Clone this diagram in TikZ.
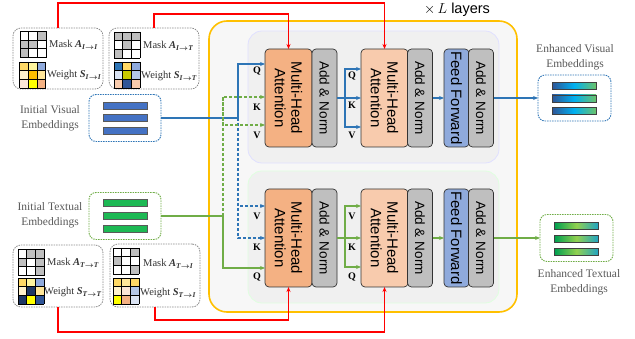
\documentclass[tikz,border=0pt]{standalone}
\usepackage{fontspec}
\setmainfont{Liberation Serif}
\setsansfont{Liberation Sans}
\usepackage{amsmath,bm}
\usetikzlibrary{arrows.meta,calc}
\definecolor{cblue}{HTML}{2E75B6}
\definecolor{cgreen}{HTML}{70AD47}
\definecolor{cred}{HTML}{FF0000}
\definecolor{cyel}{HTML}{FFC000}
\definecolor{mhaAc}{HTML}{F4B183}
\definecolor{mhaBc}{HTML}{F8CBAD}
\definecolor{anc}{HTML}{BFBFBF}
\definecolor{ffc}{HTML}{8FAADC}
\definecolor{mg}{HTML}{BFBFBF}
\definecolor{wa}{HTML}{FFD966}
\definecolor{wb}{HTML}{FFF59D}
\definecolor{wc}{HTML}{8FAADC}
\definecolor{wd}{HTML}{FFF2CC}
\definecolor{we}{HTML}{FFC000}
\definecolor{wf}{HTML}{FFE699}
\definecolor{wg}{HTML}{FBE5D6}
\definecolor{wh}{HTML}{FFFF00}
\definecolor{wi}{HTML}{F4B183}
\definecolor{wj}{HTML}{2E75B6}
\definecolor{wk}{HTML}{DAE3F3}
\definecolor{wl}{HTML}{C9C800}
\definecolor{wm}{HTML}{B4C7E7}
\definecolor{wn}{HTML}{F8CBAD}
\definecolor{wo}{HTML}{2F5597}
\definecolor{wp}{HTML}{1F3864}
\definecolor{vbar}{HTML}{4472C4}
\definecolor{tbar}{HTML}{1DB954}
\definecolor{txtgray}{HTML}{595959}
\definecolor{evL}{HTML}{2F5597}
\definecolor{evM}{HTML}{00B0F0}
\definecolor{evR}{HTML}{6CC36A}
\definecolor{etL}{HTML}{00A050}
\definecolor{etM}{HTML}{92D050}
\definecolor{etR}{HTML}{1FA3C4}
\newcommand\mybi[1]{\textbf{\textit{#1}}}
\newcommand\mygrid[3]{%
  \foreach \cc [count=\ii from 0] in {#3} {%
    \pgfmathtruncatemacro\grr{\ii/3}%
    \pgfmathtruncatemacro\gcc{\ii-3*\grr}%
    \fill[\cc] ({#1+\gcc*8.7},{#2+\grr*8.7}) rectangle ++(8.7,8.7);
  }%
  \foreach \kk in {0,1,2,3} {%
    \draw[line width=0.8pt] ({#1+\kk*8.7},#2) -- ++(0,26.1);
    \draw[line width=0.8pt] (#1,{#2+\kk*8.7}) -- ++(26.1,0);
  }%
}
\begin{document}
\begin{tikzpicture}[x=1pt,y=-1pt,>={Stealth[length=5pt,width=4pt]},
  blk/.style={draw=black!80, line width=0.7pt, rounded corners=4pt, inner sep=0pt, outer sep=0pt, minimum height=98pt},
  mhaA/.style={blk, fill=mhaAc, minimum width=47pt},
  mhaB/.style={blk, fill=mhaBc, minimum width=47pt},
  addn/.style={blk, fill=anc, minimum width=25pt},
  ffn/.style={blk, fill=ffc, minimum width=25pt},
  vtxt/.style={rotate=-90, align=center, font=\sffamily\fontsize{15}{16.5}\selectfont},
  vtxs/.style={rotate=-90, align=center, font=\sffamily\fontsize{13.5}{15}\selectfont},
  qkv/.style={font=\bfseries\fontsize{10}{12}\selectfont},
  bline/.style={draw=cblue, line width=1.3pt},
  gline/.style={draw=cgreen, line width=1.3pt},
  rline/.style={draw=cred, line width=1.3pt},
  dsh/.style={dash pattern=on 3pt off 2pt},
  embbox/.style={rounded corners=7pt, line width=0.9pt, dash pattern=on 1.5pt off 1pt, inner sep=0pt, outer sep=0pt, fill=white},
  matbox/.style={draw=black!45, rounded corners=8pt, line width=0.8pt, dash pattern=on 1.5pt off 1pt, inner sep=0pt, outer sep=0pt, minimum width=90pt},
  bar/.style={draw=black!65, line width=0.8pt, inner sep=0pt, minimum width=44pt, minimum height=7pt},
  ebar/.style={bar, draw=black!75, left color=evL, right color=evR, middle color=evM},
  tbarg/.style={bar, draw=black!75, left color=etL, right color=etR, middle color=etM},
  lbl/.style={align=center, text=txtgray, font=\fontsize{11.5}{15}\selectfont},
  mtxt/.style={anchor=west, inner sep=0pt, text=black!80, font=\fontsize{10.5}{12}\selectfont}
]
\useasboundingbox (0,0) rectangle (635,339);
% outer layers box
\node[draw=cyel, line width=1.6pt, fill=black!3, rounded corners=18pt, minimum width=308pt, minimum height=291pt, inner sep=0pt] (layers) at (363,166.5) {};
\node[font=\sffamily\fontsize{14.5}{16}\selectfont] (ltitle) at (457,10) {$\times\,L$ layers};
\node[draw=blue!12, line width=0.8pt, fill=black!6, rounded corners=14pt, minimum width=251pt, minimum height=132pt, inner sep=0pt] (upblk) at (373.5,97) {};
\node[draw=green!12, line width=0.8pt, fill=black!6, rounded corners=14pt, minimum width=251pt, minimum height=132pt, inner sep=0pt] (loblk) at (373.5,237) {};
% upper blocks
\node[mhaA] (mhaAu) at (288.5,98) {};
\node[vtxt] at (mhaAu.center) {Multi-Head\\Attention};
\node[addn] (anAu) at (324.5,98) {};
\node[vtxs] at (anAu.center) {Add \& Norm};
\node[mhaB] (mhaBu) at (384.5,98) {};
\node[vtxt] at (mhaBu.center) {Multi-Head\\Attention};
\node[addn] (anBu) at (420,98) {};
\node[vtxs] at (anBu.center) {Add \& Norm};
\node[ffn] (ffu) at (456.5,98) {};
\node[vtxt] at (ffu.center) {Feed Forward};
\node[addn] (anCu) at (481,98) {};
\node[vtxs] at (anCu.center) {Add \& Norm};
% lower blocks
\node[mhaA] (mhaAl) at (288.5,238) {};
\node[vtxt] at (mhaAl.center) {Multi-Head\\Attention};
\node[addn] (anAl) at (324.5,238) {};
\node[vtxs] at (anAl.center) {Add \& Norm};
\node[mhaB] (mhaBl) at (384.5,238) {};
\node[vtxt] at (mhaBl.center) {Multi-Head\\Attention};
\node[addn] (anBl) at (420,238) {};
\node[vtxs] at (anBl.center) {Add \& Norm};
\node[ffn] (ffl) at (456.5,238) {};
\node[vtxt] at (ffl.center) {Feed Forward};
\node[addn] (anCl) at (481,238) {};
\node[vtxs] at (anCl.center) {Add \& Norm};
% Q K V labels
\node[qkv] at (257,71) {Q};
\node[qkv] at (257,107) {K};
\node[qkv] at (257,135) {V};
\node[qkv] at (352,76) {Q};
\node[qkv] at (352,105) {K};
\node[qkv] at (352,135) {V};
\node[qkv] at (257,216) {V};
\node[qkv] at (257,247) {K};
\node[qkv] at (257,277) {Q};
\node[qkv] at (352,216) {V};
\node[qkv] at (352,247) {K};
\node[qkv] at (352,277) {Q};
% initial embeddings
\node[embbox, draw=cblue, minimum width=72pt, minimum height=47pt] (vis) at (125,118) {};
\node[bar, fill=vbar] (vb1) at (125,105.5) {};
\node[bar, fill=vbar] (vb2) at (125,118) {};
\node[bar, fill=vbar] (vb3) at (125,130.5) {};
\node[lbl] (vislbl) at (50,118) {Initial Visual\\Embeddings};
\node[embbox, draw=cgreen, minimum width=72pt, minimum height=47pt] (txt) at (125,216) {};
\node[bar, fill=tbar] (tb1) at (125,203) {};
\node[bar, fill=tbar] (tb2) at (125,216) {};
\node[bar, fill=tbar] (tb3) at (125,229) {};
\node[lbl] (txtlbl) at (50,215.5) {Initial Textual\\Embeddings};
% enhanced embeddings
\node[embbox, draw=cblue, minimum width=73pt, minimum height=46pt] (evis) at (574.5,98) {};
\node[ebar] (eb1) at (574,86) {};
\node[ebar] (eb2) at (574,98.5) {};
\node[ebar] (eb3) at (574,111) {};
\node[lbl] (evislbl) at (575,57) {Enhanced Visual\\Embeddings};
\node[embbox, draw=cgreen, minimum width=73pt, minimum height=47pt] (etxt) at (576.5,238) {};
\node[tbarg] (et1) at (576.5,226) {};
\node[tbarg] (et2) at (576.5,239) {};
\node[tbarg] (et3) at (576.5,252) {};
\node[lbl] (etxtlbl) at (579,282.5) {Enhanced Textual\\Embeddings};
% mask / weight boxes
\node[matbox, minimum height=61pt] (mII) at (58,58.5) {};
\node[matbox, minimum height=61pt] (mIT) at (154,58.5) {};
\node[matbox, minimum height=62pt] (mTT) at (58,276) {};
\node[matbox, minimum height=63pt] (mTI) at (155,275.5) {};
\mygrid{20}{31.5}{white,white,mg,mg,mg,white,mg,white,white}
\mygrid{19.5}{62}{wa,wb,wc,wd,we,wf,wg,wh,wi}
\node[mtxt] at (49,45) {Mask \mybi{A}\textsubscript{\mybi{I}$\boldsymbol{\rightarrow}$\mybi{I}}};
\node[mtxt] at (47,75) {Weight \mybi{S}\textsubscript{\mybi{I}$\boldsymbol{\rightarrow}$\mybi{I}}};
\mygrid{114}{32}{mg,mg,mg,white,mg,white,mg,white,white}
\mygrid{114}{62}{wj,wa,wc,wk,wl,wm,wn,wo,wn}
\node[mtxt] at (143,46) {Mask \mybi{A}\textsubscript{\mybi{I}$\boldsymbol{\rightarrow}$\mybi{T}}};
\node[mtxt] at (141,76) {Weight \mybi{S}\textsubscript{\mybi{I}$\boldsymbol{\rightarrow}$\mybi{T}}};
\mygrid{18}{249.5}{white,mg,mg,mg,white,mg,white,white,mg}
\mygrid{18}{278}{wa,wb,wc,wd,wp,wf,wp,wh,wo}
\node[mtxt] at (47,263) {Mask \mybi{A}\textsubscript{\mybi{T}$\boldsymbol{\rightarrow}$\mybi{T}}};
\node[mtxt] at (44,292) {Weight \mybi{S}\textsubscript{\mybi{T}$\boldsymbol{\rightarrow}$\mybi{T}}};
\mygrid{113}{248}{white,white,mg,mg,white,white,white,white,mg}
\mygrid{113}{278}{wa,wf,wa,wd,wg,wm,wh,wi,wk}
\node[mtxt] at (143,264) {Mask \mybi{A}\textsubscript{\mybi{T}$\boldsymbol{\rightarrow}$\mybi{I}}};
\node[mtxt] at (140,293) {Weight \mybi{S}\textsubscript{\mybi{T}$\boldsymbol{\rightarrow}$\mybi{I}}};
% junctions
\coordinate (vj) at (238,118);
\coordinate (tj) at (223,216);
\coordinate (bju) at (345,98);
\coordinate (bjl) at (345,238);
% visual inputs
\draw[bline,->] (vis.east) -- (vj) |- (mhaAu.west |- 0,64);
\draw[bline,dsh,->] (vj) |- (mhaAl.west |- 0,206);
\draw[bline,dsh,->] (vj) |- (mhaAl.west |- 0,238);
% textual inputs
\draw[gline,->] (txt.east) -- (tj) |- (mhaAl.west |- 0,268);
\draw[gline,dsh,->] (tj) |- (mhaAu.west |- 0,97);
\draw[gline,dsh,->] (tj |- 0,97) |- (mhaAu.west |- 0,125);
% upper second attention
\draw[bline] (anAu.east) -- (bju);
\draw[bline,->] (bju) |- (mhaBu.west |- 0,69);
\draw[bline,->] (bju) -- (mhaBu.west);
\draw[bline,->] (bju) |- (mhaBu.west |- 0,127);
\draw[bline,->] (anBu.east) -- (ffu.west);
\draw[bline,->] (anCu.east) -- (evis.west);
% lower second attention
\draw[gline] (anAl.east) -- (bjl);
\draw[gline,->] (bjl) |- (mhaBl.west |- 0,206);
\draw[gline,->] (bjl) -- (mhaBl.west);
\draw[gline,->] (bjl) |- (mhaBl.west |- 0,267);
\draw[gline,->] (anBl.east) -- (ffl.west);
\draw[gline,->] (anCl.east) -- (etxt.west);
% masks (red)
\draw[rline,->] (mII.north) -- (mII.north |- 0,3) -| (mhaBu.north);
\draw[rline,->] (mIT.north) -- (mIT.north |- 0,14) -| (mhaAu.north);
\draw[rline,->] (mTT.south) -- (mTT.south |- 0,332) -| (mhaBl.south);
\draw[rline,->] (mTI.south) -- (mTI.south |- 0,320) -| (mhaAl.south);
\end{tikzpicture}
\end{document}
